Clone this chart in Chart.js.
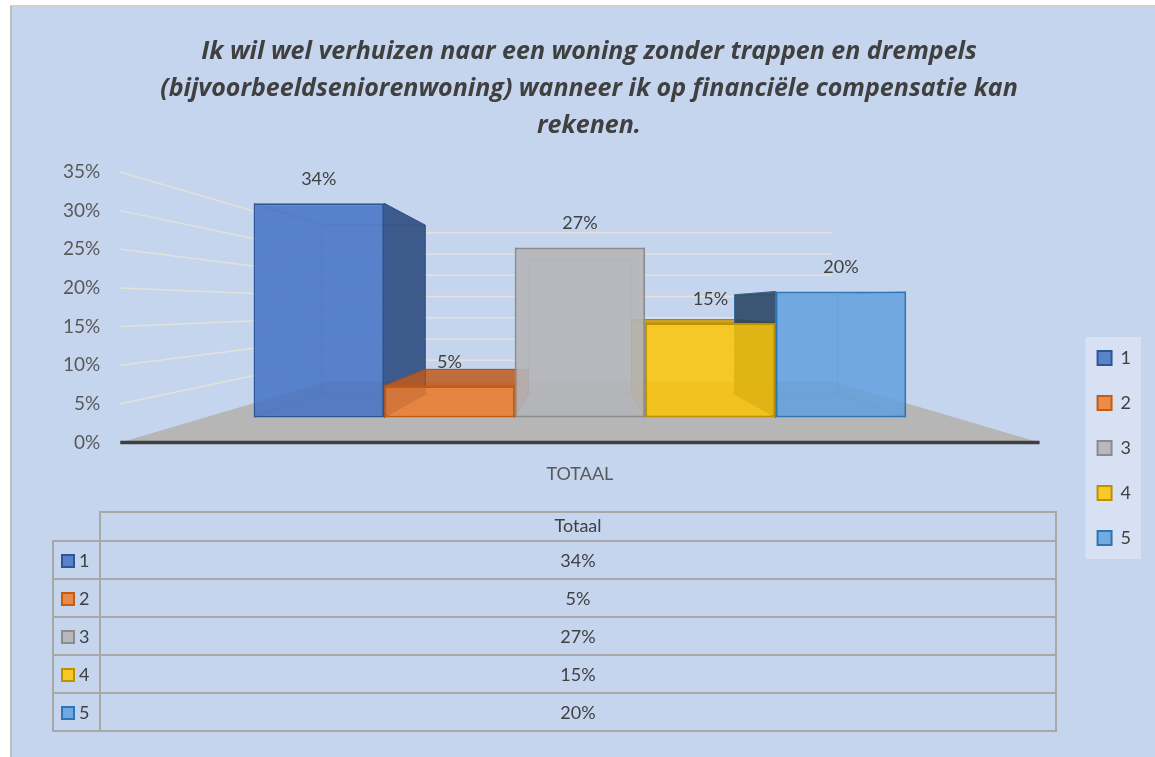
<!DOCTYPE html>
<html>
<head>
<meta charset="utf-8">
<title>Verhuizen</title>
<script src="https://cdn.jsdelivr.net/npm/chart.js@4.4.1/dist/chart.umd.min.js"></script>
<style>
    body { margin: 0; background: #ffffff; }
    #frame { position: absolute; left: 10px; top: 5px; width: 1143px; height: 750px; background: #C6D5EE; border-left: 2px solid #BDBDBD; border-top: 2px solid #D2D2D2; }
    #wrap { position: absolute; left: 0; top: 0; width: 1155px; height: 757px; }
    #dataTable { position: absolute; left: 52px; top: 511px; border-collapse: collapse; font: 18px Lato, sans-serif; color: #404040; }
    #dataTable td { border: 2px solid #A8A8A8; padding: 0; text-align: center; }
    #dataTable td.head { padding-bottom: 4px; }
    #dataTable td.key { text-align: left; padding-left: 7px; width: 38px; }
    #dataTable .swatch { display: inline-block; width: 10px; height: 10px; border: 2px solid; margin-right: 4px; vertical-align: -1px; }
</style>
</head>
<body>
<div id="frame"></div>
<div id="wrap"><canvas id="chart" width="1155" height="757"></canvas></div>
<table id="dataTable"></table>
<script>
"use strict";

var categories = ["TOTAAL"];
var seriesNames = ["1", "2", "3", "4", "5"];
var seriesValues = [34, 5, 27, 15, 20];
var yTicks = [0, 5, 10, 15, 20, 25, 30, 35];
var tableHeader = "Totaal";
var titleLines = [
    "Ik wil wel verhuizen naar een woning zonder trappen en drempels",
    "(bijvoorbeeldseniorenwoning) wanneer ik op financiële compensatie kan",
    "rekenen."
];

var fillColors = ["rgba(68,114,196,0.85)", "rgba(238,124,45,0.85)", "rgba(180,181,184,0.9)", "rgba(253,197,5,0.85)", "rgba(98,160,222,0.85)"];
var borderColors = ["#2F5597", "#C55A11", "#8C8C8C", "#BF9000", "#2E75B6"];
var sideColors = ["rgba(36,68,123,0.85)", "rgba(190,90,30,0.85)", "rgba(150,150,152,0.6)", "rgba(205,150,0,0.8)", "rgba(33,63,94,0.85)"];

var FRONT_DEPTH = 0.185;   // bars stand a bit behind the front edge of the floor
var BAR_DEPTH = 0.21;      // depth of each box
var WALL_DEPTH = 0.45;     // where the back wall is

var textColor = "#404040";
var font = "Lato, sans-serif";

/* range of the hidden bar axis, so that the front faces sit on the floor in perspective */
var barRange = 35 / (1 - FRONT_DEPTH);
var barMin = -FRONT_DEPTH * barRange / 2;

function vanishing(chart) {
    var ca = chart.chartArea;
    return { x: (ca.left + ca.right) / 2, y: (ca.top + ca.bottom) / 2 };
}

function project(p, vp, k) {
    return { x: p.x + (vp.x - p.x) * k, y: p.y + (vp.y - p.y) * k };
}

function poly(ctx, pts, fill, stroke) {
    ctx.beginPath();
    ctx.moveTo(pts[0].x, pts[0].y);
    for (var i = 1; i < pts.length; i++) ctx.lineTo(pts[i].x, pts[i].y);
    ctx.closePath();
    if (fill) { ctx.fillStyle = fill; ctx.fill(); }
    if (stroke) { ctx.strokeStyle = stroke; ctx.stroke(); }
}

/* floor, walls and the hidden faces of the boxes */
var scene3d = {
    id: "scene3d",
    afterLayout: function(chart) {
        var lg = chart.legend;
        var shift = chart.width - 14 - lg.right;
        lg.left += shift;
        lg.right += shift;
        lg.top = 316;
        lg.bottom = 580;
        lg.height = lg.bottom - lg.top;
        chart.titleBlock.left = 43;
        chart.titleBlock.right = 1135;
        chart.titleBlock.width = 1092;
    },
    beforeDraw: function(chart) {
        var ctx = chart.ctx, lg = chart.legend;
        ctx.save();
        ctx.fillStyle = "rgba(255,255,255,0.3)";
        ctx.fillRect(lg.left + 15, lg.top + 21, lg.right - lg.left - 15, lg.bottom - lg.top - 42);
        ctx.restore();
    },
    beforeDatasetsDraw: function(chart) {
        var ctx = chart.ctx, ca = chart.chartArea, y = chart.scales.y;
        var vp = vanishing(chart);
        var y0 = y.getPixelForValue(0);
        ctx.save();

        var fl = { x: ca.left, y: y0 }, fr = { x: ca.right, y: y0 };
        poly(ctx, [fl, fr, project(fr, vp, WALL_DEPTH), project(fl, vp, WALL_DEPTH)], "#B6B6B6");

        ctx.lineWidth = 1.5;
        ctx.strokeStyle = "rgba(228,226,215,0.9)";
        yTicks.forEach(function(v) {
            if (v === 0) return;
            var p = { x: ca.left, y: y.getPixelForValue(v) };
            var b = project(p, vp, WALL_DEPTH);
            var br = project({ x: ca.right, y: p.y }, vp, WALL_DEPTH);
            ctx.beginPath();
            ctx.moveTo(p.x, p.y);
            ctx.lineTo(b.x, b.y);
            ctx.lineTo(br.x, b.y);
            ctx.stroke();
        });

        ctx.lineWidth = 3.5;
        ctx.strokeStyle = "#3F3F3F";
        ctx.beginPath();
        ctx.moveTo(ca.left, y0);
        ctx.lineTo(ca.right, y0);
        ctx.stroke();

        chart.data.datasets.forEach(function(ds, i) {
            var el = chart.getDatasetMeta(i).data[0];
            var x0 = el.x - el.width / 2, x1 = el.x + el.width / 2;
            var tl = { x: x0, y: el.y }, tr = { x: x1, y: el.y };
            var bl = { x: x0, y: el.base }, br = { x: x1, y: el.base };
            var btl = project(tl, vp, BAR_DEPTH), btr = project(tr, vp, BAR_DEPTH);
            var bbl = project(bl, vp, BAR_DEPTH), bbr = project(br, vp, BAR_DEPTH);

            ctx.lineWidth = 1;
            if (x1 < vp.x) poly(ctx, [tr, btr, bbr, br], sideColors[i], borderColors[i]);
            if (x0 > vp.x) poly(ctx, [tl, btl, bbl, bl], sideColors[i], borderColors[i]);
            if (el.y > vp.y) poly(ctx, [tl, tr, btr, btl], sideColors[i], borderColors[i]);

            ctx.strokeStyle = "rgba(60,60,60,0.25)";
            poly(ctx, [btl, btr, bbr, bbl], null, "rgba(60,60,60,0.25)");
            [[tl, btl], [tr, btr], [bl, bbl], [br, bbr]].forEach(function(s) {
                ctx.beginPath();
                ctx.moveTo(s[0].x, s[0].y);
                ctx.lineTo(s[1].x, s[1].y);
                ctx.stroke();
            });
        });
        ctx.restore();
    },
    afterDatasetsDraw: function(chart) {
        var ctx = chart.ctx;
        ctx.save();
        ctx.font = "18px " + font;
        ctx.fillStyle = textColor;
        ctx.textAlign = "center";
        ctx.textBaseline = "middle";
        chart.data.datasets.forEach(function(ds, i) {
            var el = chart.getDatasetMeta(i).data[0];
            ctx.fillText(ds.data[0] + "%", el.x, el.y - 24);
        });
        ctx.restore();
    }
};

var datasets = seriesNames.map(function(name, i) {
    return {
        label: name,
        data: [seriesValues[i]],
        yAxisID: "yBar",
        backgroundColor: fillColors[i],
        borderColor: borderColors[i],
        borderWidth: 2,
        borderSkipped: false
    };
});

new Chart(document.getElementById("chart"), {
    type: "bar",
    data: {
        labels: categories,
        datasets: datasets
    },
    options: {
        responsive: false,
        animation: false,
        layout: {
            padding: { top: 5, left: 43, right: 45, bottom: 251 }
        },
        datasets: {
            bar: { categoryPercentage: 0.71, barPercentage: 1 }
        },
        scales: {
            x: {
                grid: { display: false, drawTicks: false },
                border: { display: false },
                ticks: { color: "#595959", padding: 21, font: { family: font, size: 18 } }
            },
            y: {
                min: 0,
                max: 35,
                grid: { display: false, drawTicks: false },
                border: { display: false },
                afterBuildTicks: function(axis) {
                    axis.ticks = yTicks.map(function(v) { return { value: v }; });
                },
                ticks: {
                    color: "#595959",
                    padding: 20,
                    font: { family: font, size: 19 },
                    callback: function(v) { return v + "%"; }
                }
            },
            yBar: {
                display: false,
                min: barMin,
                max: barMin + barRange
            }
        },
        plugins: {
            title: {
                display: true,
                text: titleLines,
                color: textColor,
                font: { family: "'Open Sans', sans-serif", size: 25, weight: "bold", style: "italic", lineHeight: "37px" },
                padding: { top: 28, bottom: 28 }
            },
            legend: {
                position: "right",
                fullSize: true,
                labels: {
                    color: textColor,
                    boxWidth: 14,
                    boxHeight: 14,
                    padding: 27,
                    font: { family: font, size: 18 }
                }
            },
            tooltip: { enabled: false }
        }
    },
    plugins: [scene3d]
});

/* data table under the chart */
var table = document.getElementById("dataTable");
var html = '<tr style="height:29px"><td style="border:none"></td><td class="head" style="width:954px">' + tableHeader + '</td></tr>';
seriesNames.forEach(function(name, i) {
    html += '<tr style="height:38px"><td class="key"><span class="swatch" style="background:' + fillColors[i] +
        ';border-color:' + borderColors[i] + '"></span>' + name + '</td><td>' + seriesValues[i] + '%</td></tr>';
});
table.innerHTML = html;
</script>
</body>
</html>
